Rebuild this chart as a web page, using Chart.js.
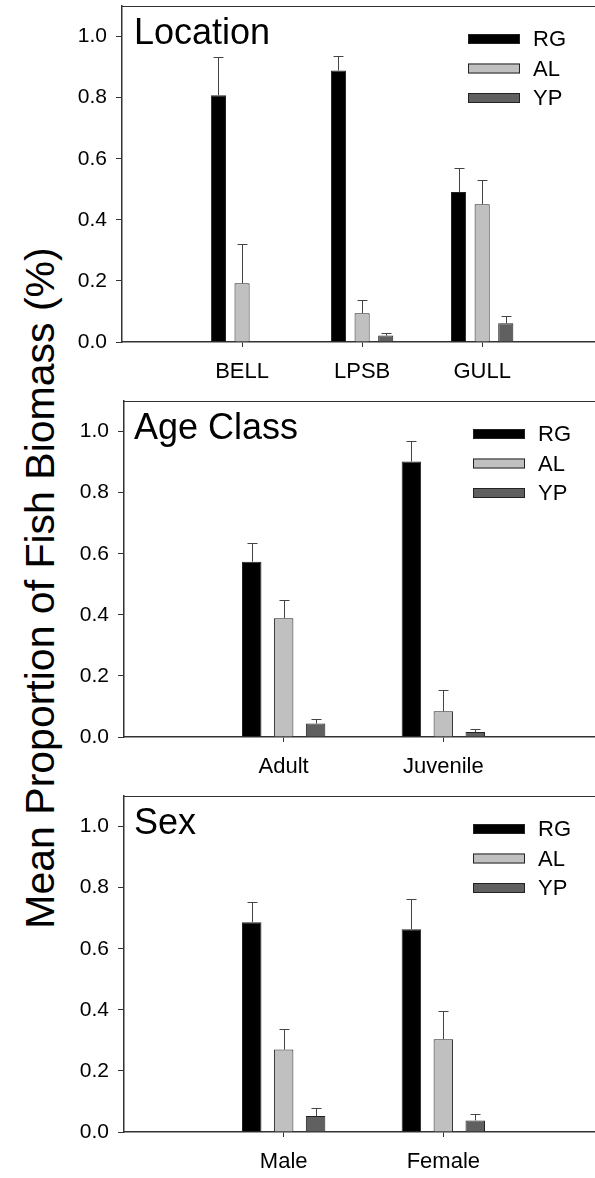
<!DOCTYPE html>
<html>
<head>
<meta charset="utf-8">
<script src="https://cdn.jsdelivr.net/npm/chart.js@4.4.1/dist/chart.umd.min.js"></script>
<style>
  html, body { margin: 0; padding: 0; background: #fff; }
  body { width: 595px; height: 1178px; position: relative; overflow: hidden; }
  canvas { position: absolute; left: 0; }
  #ytitle {
    position: absolute; left: 40px; top: 588px;
    transform: translate(-50%, -50%) rotate(-90deg);
    white-space: nowrap; font-family: 'Liberation Sans', Arial, sans-serif;
    font-size: 41px; color: #000;
  }
</style>
</head>
<body>
<div id="ytitle">Mean Proportion of Fish Biomass (%)</div>
<canvas id="p1" width="595" height="390" style="top:0px"></canvas>
<canvas id="p2" width="595" height="390" style="top:395px"></canvas>
<canvas id="p3" width="595" height="390" style="top:790px"></canvas>
<script>
// data (upper error = SE)
const seriesNames = ['RG', 'AL', 'YP'];
const yTicks = [0, 0.2, 0.4, 0.6, 0.8, 1.0];

const locCategories = ['BELL', 'LPSB', 'GULL'];
const locRG = [0.808, 0.889, 0.491];
const locAL = [0.192, 0.094, 0.451];
const locYP = [null, 0.021, 0.061];
const locRGErr = [0.124, 0.046, 0.080];
const locALErr = [0.128, 0.044, 0.078];
const locYPErr = [null, 0.007, 0.025];

const ageCategories = ['Adult', 'Juvenile'];
const ageRG = [0.574, 0.902];
const ageAL = [0.389, 0.084];
const ageYP = [0.044, 0.016];
const ageRGErr = [0.060, 0.068];
const ageALErr = [0.059, 0.069];
const ageYPErr = [0.016, 0.009];

const sexCategories = ['Male', 'Female'];
const sexRG = [0.687, 0.664];
const sexAL = [0.270, 0.304];
const sexYP = [0.052, 0.038];
const sexRGErr = [0.067, 0.100];
const sexALErr = [0.066, 0.093];
const sexYPErr = [0.026, 0.021];

const fills = ['#000000', '#c0c0c0', '#606060'];
const FONT = "'Liberation Sans', Arial, sans-serif";
const axisColor = '#333';

// frame line on top, error bars, panel title and legend
const panelDecor = {
  id: 'panelDecor',
  afterDatasetsDraw(chart) {
    const ctx = chart.ctx;
    const y = chart.scales.y;
    ctx.save();
    ctx.strokeStyle = '#444';
    ctx.lineWidth = 1;
    chart.data.datasets.forEach((ds, d) => {
      const meta = chart.getDatasetMeta(d);
      meta.data.forEach((bar, i) => {
        const v = ds.data[i].y;
        const e = ds.errors[i];
        if (v == null || e == null) return;
        const x = Math.round(bar.x) + 0.5;
        const top = Math.round(y.getPixelForValue(v + e)) + 0.5;
        ctx.beginPath();
        ctx.moveTo(x, bar.y);
        ctx.lineTo(x, top);
        ctx.moveTo(x - 5, top);
        ctx.lineTo(x + 5, top);
        ctx.stroke();
      });
    });
    ctx.restore();
  },
  afterDraw(chart, args, opts) {
    const ctx = chart.ctx;
    const area = chart.chartArea;
    ctx.save();
    ctx.strokeStyle = axisColor;
    ctx.lineWidth = 1;
    ctx.beginPath();
    ctx.moveTo(area.left, Math.round(area.top) + 0.5);
    ctx.lineTo(chart.width, Math.round(area.top) + 0.5);
    ctx.stroke();

    ctx.fillStyle = '#000';
    ctx.font = '36px ' + FONT;
    ctx.textBaseline = 'alphabetic';
    ctx.fillText(opts.title, opts.titleX, area.top + opts.titleY);

    ctx.font = '22px ' + FONT;
    ctx.textBaseline = 'middle';
    chart.data.datasets.forEach((ds, d) => {
      const cy = area.top + opts.legendY[d];
      ctx.fillStyle = ds.backgroundColor;
      ctx.fillRect(opts.legendX, cy - 5, 52, 10);
      ctx.strokeStyle = '#222';
      ctx.strokeRect(opts.legendX + 0.5, cy - 4.5, 51, 9);
      ctx.fillStyle = '#000';
      ctx.fillText(ds.label, opts.legendX + 65, cy + 1);
    });
    ctx.restore();
  }
};

function makePanel(id, title, cats, values, errs, o) {
  const datasets = seriesNames.map((name, s) => ({
    label: name,
    data: cats.map((c, i) => ({ x: i + 1, y: values[s][i] })),
    errors: errs[s],
    backgroundColor: fills[s],
    borderColor: '#222',
    borderWidth: 1,
    categoryPercentage: o.catPct,
    barPercentage: o.barPct
  }));

  return new Chart(document.getElementById(id), {
    type: 'bar',
    data: { datasets: datasets },
    options: {
      responsive: false,
      animation: false,
      layout: { padding: { top: 6, left: 0, right: 0, bottom: 0 } },
      plugins: {
        legend: { display: false },
        tooltip: { enabled: false },
        panelDecor: { title: title, titleX: 134, titleY: 38, legendX: o.legendX, legendY: [33, 62.5, 92] }
      },
      scales: {
        x: {
          type: 'linear',
          offset: false,
          min: 0,
          max: o.xMax,
          afterBuildTicks: s => { s.ticks = cats.map((c, i) => ({ value: i + 1 })); },
          afterFit: s => { s.height = 48; s.paddingLeft = 0; s.paddingRight = 0; },
          grid: { offset: false, drawOnChartArea: false, tickLength: 5, color: axisColor },
          border: { color: axisColor, width: 1.5 },
          ticks: {
            color: '#000', padding: 12, maxRotation: 0, autoSkip: false,
            font: { family: FONT, size: 22 },
            callback: (v) => cats[v - 1] || ''
          }
        },
        y: {
          min: 0,
          max: 1.1,
          afterBuildTicks: s => { s.ticks = yTicks.map(v => ({ value: v })); },
          afterFit: s => { s.width = o.left; s.paddingTop = 0; s.paddingBottom = 0; },
          grid: { drawOnChartArea: false, tickLength: 6, color: axisColor },
          border: { color: axisColor, width: 1.5 },
          ticks: {
            color: '#000', padding: 9,
            font: { family: FONT, size: 21 },
            callback: (v) => Number(v).toFixed(1)
          }
        }
      }
    },
    plugins: [panelDecor]
  });
}

Chart.register(panelDecor);

makePanel('p1', 'Location', locCategories,
  [locRG, locAL, locYP], [locRGErr, locALErr, locYPErr],
  { xMax: 3.94, left: 122, catPct: 0.59, barPct: 0.64, legendX: 468 });

makePanel('p2', 'Age Class', ageCategories,
  [ageRG, ageAL, ageYP], [ageRGErr, ageALErr, ageYPErr],
  { xMax: 2.95, left: 124, catPct: 0.60, barPct: 0.61, legendX: 473 });

makePanel('p3', 'Sex', sexCategories,
  [sexRG, sexAL, sexYP], [sexRGErr, sexALErr, sexYPErr],
  { xMax: 2.95, left: 124, catPct: 0.60, barPct: 0.61, legendX: 473 });
</script>
</body>
</html>
